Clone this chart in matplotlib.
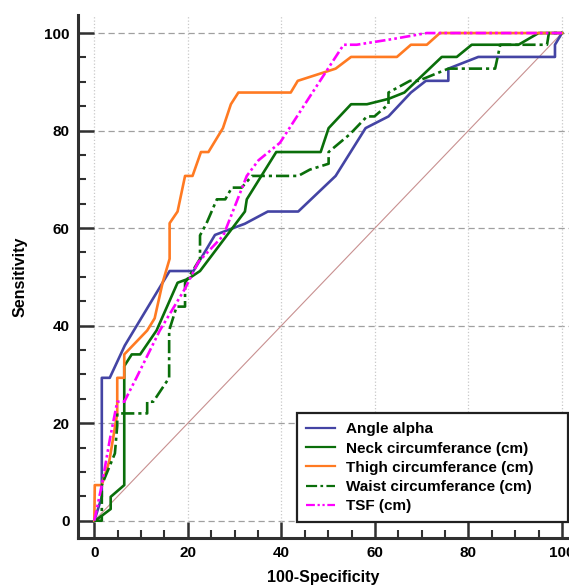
import numpy as np
import matplotlib.pyplot as plt
from matplotlib.ticker import MultipleLocator

plt.rcParams["font.family"] = ["Liberation Sans", "DejaVu Sans"]
plt.rcParams["font.weight"] = "bold"

# ROC curves (x = 100-Specificity, y = Sensitivity)
angle_x = [0, 1.6, 1.6, 3.3, 6.5, 16.1, 21.2, 25.8, 32.2, 37.1, 43.6, 51.6, 58.0,
           62.9, 67.7, 70.9, 75.7, 75.7, 82.1, 98.5, 98.5, 100]
angle_y = [0, 4.9, 29.3, 29.3, 35.9, 51.2, 51.2, 58.6, 60.9, 63.4, 63.4, 70.7, 80.5,
           82.9, 87.8, 90.2, 90.2, 92.7, 95.1, 95.1, 97.6, 100]

neck_x = [0, 0.2, 3.5, 3.5, 6.4, 6.4, 8.0, 9.8, 13.3, 17.8, 20.1, 22.6, 32.2, 32.6,
          38.9, 48.4, 50.1, 54.9, 58.3, 62.9, 66.3, 74.3, 77.5, 80.7, 90.7, 95.0, 100]
neck_y = [0, 0, 2.4, 4.9, 7.3, 31.7, 34.1, 34.1, 39.0, 48.8, 49.6, 51.2, 63.4, 65.9,
          75.6, 75.6, 80.5, 85.4, 85.4, 86.5, 87.8, 95.1, 95.1, 97.6, 97.6, 100, 100]

thigh_x = [0, 0.1, 1.6, 3.2, 4.9, 4.9, 6.4, 6.4, 11.3, 12.9, 14.6, 16.1, 16.1, 17.8,
           19.4, 21.0, 22.8, 24.4, 27.5, 29.2, 30.8, 42.0, 43.5, 51.6, 54.9, 64.7,
           67.7, 71.1, 73.9, 100]
thigh_y = [0, 7.3, 7.3, 12.2, 22.0, 29.3, 29.3, 34.1, 39.0, 41.5, 48.8, 53.7, 61.0,
           63.4, 70.7, 70.7, 75.6, 75.6, 80.5, 85.4, 87.8, 87.8, 90.2, 92.7, 95.1,
           95.1, 97.6, 97.6, 100, 100]

waist_x = [0, 1.6, 1.6, 4.4, 4.9, 4.9, 11.3, 11.3, 12.6, 16.0, 16.0, 17.6, 19.4,
           19.4, 21.0, 22.6, 22.6, 24.0, 26.2, 28.0, 29.4, 31.5, 33.7, 43.6, 46.1,
           50.1, 50.1, 54.7, 58.3, 59.9, 62.9, 62.9, 67.5, 69.3, 75.7, 85.7, 86.8,
           96.8, 97.2, 100]
waist_y = [0, 0, 7.3, 13.8, 19.5, 22.0, 22.0, 24.4, 24.4, 29.3, 39.0, 43.9, 43.9,
           48.8, 51.2, 53.7, 58.5, 61.0, 65.9, 65.9, 68.3, 68.3, 70.7, 70.7, 72.0,
           73.2, 75.6, 79.3, 82.9, 82.9, 85.4, 87.8, 90.2, 90.2, 92.7, 92.7, 97.6,
           97.6, 100, 100]

tsf_x = [0, 1.6, 3.4, 4.9, 6.4, 9.0, 14.0, 19.4, 22.2, 27.6, 32.6, 35.1, 39.7,
         46.1, 53.3, 56.1, 64.0, 71.1, 100]
tsf_y = [0, 7.3, 17.1, 24.4, 24.4, 29.3, 39.0, 47.6, 53.0, 58.5, 70.7, 73.9, 77.5,
         87.0, 97.6, 97.6, 98.8, 100, 100]

series = [
    ("Angle alpha", angle_x, angle_y, "#4444a4", "-"),
    ("Neck circumferance (cm)", neck_x, neck_y, "#0a6e0a", "-"),
    ("Thigh circumferance (cm)", thigh_x, thigh_y, "#ff7a22", "-"),
    ("Waist circumferance (cm)", waist_x, waist_y, "#0a6e0a", (0, (5, 1.5, 1.2, 1.5))),
    ("TSF (cm)", tsf_x, tsf_y, "#ff00ff", (0, (4, 1.2, 1, 1.2, 1, 1.2))),
]

fig = plt.figure(figsize=(5.69, 5.88), dpi=100)
ax = fig.add_axes([0.137, 0.085, 0.863, 0.8895])

# grid
for v in range(0, 101, 20):
    ax.axhline(v, color="#a0a0a0", lw=0.9, ls=(0, (5, 3)), zorder=0)
    ax.axvline(v, color="#c8c8c8", lw=0.9, ls=":", zorder=0)

# chance line
ax.plot([0, 100], [0, 100], color="#c89090", lw=0.8, zorder=1)

for label, xs, ys, color, ls in series:
    ax.plot(xs, ys, color=color, ls=ls, lw=1.9, label=label, zorder=3)

ax.set_xlim(-3.5, 101.5)
ax.set_ylim(-3.55, 103.7)
ax.xaxis.set_major_locator(MultipleLocator(20))
ax.xaxis.set_minor_locator(MultipleLocator(5))
ax.yaxis.set_major_locator(MultipleLocator(20))
ax.yaxis.set_minor_locator(MultipleLocator(5))

for side in ["top", "right"]:
    ax.spines[side].set_visible(False)
for side in ["left", "bottom"]:
    ax.spines[side].set_linewidth(2.2)
    ax.spines[side].set_color("#303030")

ax.tick_params(which="major", direction="in", length=11.5, width=1.8,
               color="#303030", labelsize=11, pad=6)
ax.tick_params(which="minor", direction="in", length=6, width=1.5, color="#303030")
for lbl in ax.get_xticklabels() + ax.get_yticklabels():
    lbl.set_fontweight("bold")

ax.set_xlabel("100-Specificity", fontsize=11.5, fontweight="bold", labelpad=7)
ax.set_ylabel("Sensitivity", fontsize=11.5, fontweight="bold", labelpad=12)

leg = ax.legend(loc="lower left", bbox_to_anchor=(0.446, 0.03, 0.552, 0.2),
                mode="expand", fontsize=11, frameon=True, fancybox=False,
                borderaxespad=0, handlelength=1.9, labelspacing=0.34,
                borderpad=0.6, handletextpad=0.7)
leg.get_frame().set_edgecolor("#202020")
leg.get_frame().set_linewidth(1.6)
leg.get_frame().set_alpha(1)
for line in leg.get_lines():
    line.set_linewidth(1.6)

fig.savefig("out.png", dpi=100)
